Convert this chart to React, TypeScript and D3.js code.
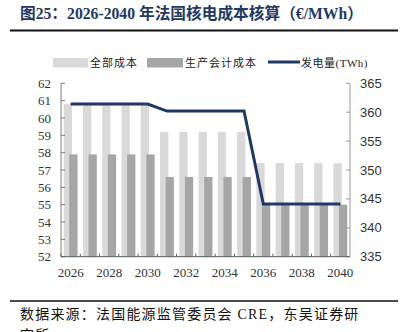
import React from "react";
import * as d3 from "d3";

const years = [2026, 2027, 2028, 2029, 2030, 2031, 2032, 2033, 2034, 2035, 2036, 2037, 2038, 2039, 2040];
const totalCost = [60.8, 60.8, 60.8, 60.8, 60.8, 59.2, 59.2, 59.2, 59.2, 59.2, 57.4, 57.4, 57.4, 57.4, 57.4];
const prodCost = [57.9, 57.9, 57.9, 57.9, 57.9, 56.6, 56.6, 56.6, 56.6, 56.6, 55.0, 55.0, 55.0, 55.0, 55.0];
const generation = [361.4, 361.4, 361.4, 361.4, 361.4, 360.2, 360.2, 360.2, 360.2, 360.2, 344.1, 344.1, 344.1, 344.1, 344.1];
const leftTicks = [52, 53, 54, 55, 56, 57, 58, 59, 60, 61, 62];
const rightTicks = [335, 340, 345, 350, 355, 360, 365];
const xLabelYears = [2026, 2028, 2030, 2032, 2034, 2036, 2038, 2040];
const legendLabels = ["全部成本", "生产会计成本", "发电量(TWh)"];
const title = "图25：2026-2040 年法国核电成本核算（€/MWh）";
const source1 = "数据来源：法国能源监管委员会 CRE，东吴证券研";
const source2 = "究所";

const W = 413, H = 332;
const L = 61, R = 350, T = 83.3, B = 256.7;
const LIGHT = "#d9d9d9", DARK = "#a6a6a6", NAVY = "#1f3864";
const SERIF = "'Liberation Serif', 'Times New Roman', 'Noto Sans CJK SC', serif";
const CJK = "'Liberation Serif', 'Noto Sans CJK SC', serif";
const SANS = "'Liberation Sans', Arial, sans-serif";

export default function App() {
  const x = d3.scaleBand<number>().domain(years).range([L, R]).padding(0);
  const bw = x.bandwidth();
  const yL = d3.scaleLinear().domain([52, 62]).range([B, T]);
  const yR = d3.scaleLinear().domain([335, 365]).range([B, T]);
  const line = d3.line<number>()
    .x((_, i) => (x(years[i]) as number) + bw / 2)
    .y((d) => yR(d));
  const barW = bw * 0.43;

  return (
    <svg width={W} height={H} style={{ position: "absolute", left: 0, top: 0, background: "#fff" }}>
      <text x={20} y={19} fontFamily={CJK} fontWeight="bold" fontSize={15.7} fill={NAVY}>{title}</text>
      <line x1={10} x2={398} y1={30.5} y2={30.5} stroke="#111" strokeWidth={2} />

      {/* legend */}
      <rect x={53} y={58} width={35} height={9.5} fill={LIGHT} />
      <text x={90} y={66.5} fontFamily={CJK} fontSize={11} letterSpacing={1} fill="#222">{legendLabels[0]}</text>
      <rect x={147} y={58} width={36} height={9.5} fill={DARK} />
      <text x={185} y={66.5} fontFamily={CJK} fontSize={11} letterSpacing={1} fill="#222">{legendLabels[1]}</text>
      <line x1={268} x2={300} y1={62} y2={62} stroke={NAVY} strokeWidth={3} />
      <text x={301} y={66.5} fontFamily={CJK} fontSize={11} letterSpacing={0.5} fill="#222">{legendLabels[2]}</text>

      {/* bars */}
      {years.map((yr, i) => {
        const x0 = x(yr) as number;
        return (
          <g key={yr}>
            <rect x={x0 + bw * 0.14} y={yL(totalCost[i])} width={barW} height={B - yL(totalCost[i])} fill={LIGHT} />
            <rect x={x0 + bw * 0.43} y={yL(prodCost[i])} width={barW} height={B - yL(prodCost[i])} fill={DARK} />
          </g>
        );
      })}

      {/* line */}
      <path d={line(generation) || ""} fill="none" stroke={NAVY} strokeWidth={3} />

      {/* left axis */}
      <line x1={L} x2={L} y1={T} y2={B} stroke="#7f7f7f" strokeWidth={1} />
      {leftTicks.map((t) => (
        <g key={t}>
          <line x1={L} x2={L + 4} y1={yL(t)} y2={yL(t)} stroke="#7f7f7f" />
          <text x={51} y={yL(t)} dy="0.35em" textAnchor="end" fontFamily={SERIF} fontSize={13} fill="#333">{t}</text>
        </g>
      ))}

      {/* right axis */}
      <line x1={R} x2={R} y1={T} y2={B} stroke="#999" strokeWidth={1} />
      {rightTicks.map((t) => (
        <g key={t}>
          <line x1={R - 4} x2={R} y1={yR(t)} y2={yR(t)} stroke="#999" />
          <text x={360} y={yR(t)} dy="0.35em" textAnchor="start" fontFamily={SANS} fontSize={13} fill="#333">{t}</text>
        </g>
      ))}

      {/* bottom axis */}
      <line x1={L} x2={R} y1={B} y2={B} stroke="#595959" strokeWidth={1} />
      {years.map((yr) => (
        <line key={yr} x1={(x(yr) as number)} x2={(x(yr) as number)} y1={B} y2={B - 3} stroke="#595959" />
      ))}
      {xLabelYears.map((yr) => (
        <text key={yr} x={(x(yr) as number) + bw / 2} y={277} textAnchor="middle" fontFamily={SERIF} fontSize={13} fill="#333">{yr}</text>
      ))}

      {/* source */}
      <line x1={10} x2={398} y1={301} y2={301} stroke="#111" strokeWidth={1.5} />
      <text x={20} y={319} fontFamily={CJK} fontSize={14} letterSpacing={1.2} fill="#111">{source1}</text>
      <text x={20} y={340} fontFamily={CJK} fontSize={14} letterSpacing={1.2} fill="#111">{source2}</text>
    </svg>
  );
}
